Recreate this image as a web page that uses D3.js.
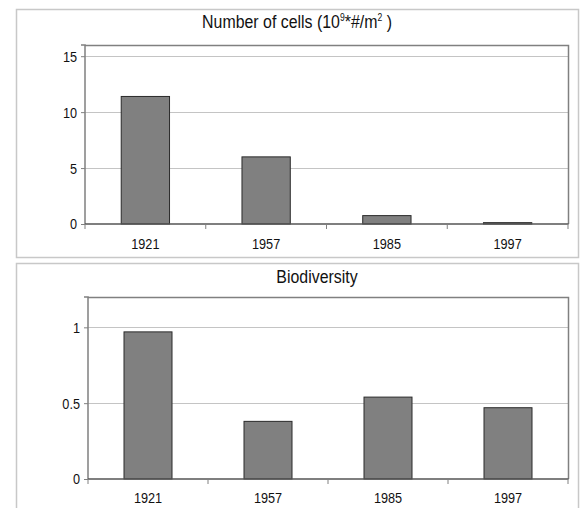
<!DOCTYPE html>
<html><head><meta charset="utf-8">
<script src="https://cdn.jsdelivr.net/npm/d3@7"></script>
<style>body{margin:0;background:#fff}svg{display:block}text{font-family:"Liberation Sans",Arial,sans-serif;fill:#111}</style>
</head><body><svg id="c" width="582" height="508"></svg>
<script>
const years = ["1921","1957","1985","1997"];
const cells = [11.4, 6.0, 0.75, 0.12];
const biodiversity = [0.97, 0.38, 0.54, 0.47];
const cellTicks = [0,5,10,15];
const bioTicks = [0,0.5,1];

const SX = 0.82;  // condensed look for tick labels
const TSX = 0.86; // condensed look for titles
const svg = d3.select("#c");

function panel(cfg){
  const g = svg.append("g");
  g.append("rect").attr("x",cfg.frame[0]+0.5).attr("y",cfg.frame[1]+0.5)
    .attr("width",cfg.frame[2]).attr("height",cfg.frame[3])
    .attr("fill","none").attr("stroke","#c8c8c8").attr("stroke-width",1.5);
  const L=cfg.plot[0], T=cfg.plot[1], R=cfg.plot[2], B=cfg.plot[3];
  const x = d3.scaleBand().domain(years).range([L,R]).paddingInner(0.6).paddingOuter(0.3);
  const y = d3.scaleLinear().domain(cfg.domain).range([B,T]);
  g.append("g").selectAll("line").data(cfg.ticks.filter(d=>d>0)).join("line")
    .attr("x1",L).attr("x2",R).attr("y1",d=>Math.round(y(d))+0.5).attr("y2",d=>Math.round(y(d))+0.5)
    .attr("stroke","#c4c4c4").attr("stroke-width",1);
  g.append("path").attr("d",`M${L},${T+0.5}H${R+0.5}V${B}`).attr("fill","none")
    .attr("stroke","#808080").attr("stroke-width",1.5);
  g.append("g").selectAll("rect").data(cfg.values).join("rect")
    .attr("x",(d,i)=>x(years[i])).attr("width",x.bandwidth())
    .attr("y",d=>y(d)).attr("height",d=>y(0)-y(d))
    .attr("fill","#808080").attr("stroke","#2a2a2a").attr("stroke-width",1);
  const ya = g.append("g").attr("transform",`translate(${L},0)`)
    .call(d3.axisLeft(y).tickValues(cfg.ticks).tickSize(4).tickPadding(4).tickFormat(d3.format("~g")));
  ya.attr("font-family",null).attr("font-size",null);
  ya.select(".domain").attr("stroke","#808080").attr("stroke-width",1.5).attr("d",`M-4,${T}H0V${B}`);
  ya.selectAll(".tick line").attr("stroke","#808080");
  ya.selectAll("text").style("font-size","15.5px").attr("fill","#111")
    .attr("x",-8/SX).attr("transform",`scale(${SX},1)`);
  const bx = d3.scaleLinear().domain([0,4]).range([L,R]);
  const xa = g.append("g").attr("transform",`translate(0,${B})`);
  xa.append("line").attr("x1",L).attr("x2",R+0.5).attr("stroke","#555").attr("stroke-width",1.5);
  xa.selectAll(".bt").data([0,1,2,3,4]).join("line").attr("class","bt")
    .attr("x1",d=>bx(d)).attr("x2",d=>bx(d)).attr("y1",0).attr("y2",5).attr("stroke","#808080");
  xa.selectAll("text").data(years).join("text")
    .attr("transform",d=>`translate(${x(d)+x.bandwidth()/2},${cfg.labelDy}) scale(${SX},1)`)
    .attr("text-anchor","middle")
    .style("font-size","15.5px").text(d=>d);
  const t = g.append("text")
    .attr("transform",`translate(${cfg.titleX},${cfg.titleY}) scale(${TSX},1)`)
    .attr("text-anchor","middle")
    .style("font-size","18.5px");
  cfg.title(t);
}

panel({
  frame:[16,9,562,248], plot:[85,45,568,224], domain:[0,16], ticks:cellTicks, values:cells,
  labelDy:25, titleX:297, titleY:28,
  title:t=>{
    t.append("tspan").text("Number of cells (10");
    t.append("tspan").attr("dy",-7).style("font-size","10px").text("9");
    t.append("tspan").attr("dy",7).text("*#/m");
    t.append("tspan").attr("dy",-7).style("font-size","10px").text("2");
    t.append("tspan").attr("dy",7).text(" )");
  }
});
panel({
  frame:[16,263,562,260], plot:[88,297,568,479], domain:[0,1.2], ticks:bioTicks, values:biodiversity,
  labelDy:24, titleX:317, titleY:283,
  title:t=>t.text("Biodiversity")
});
</script></body></html>
